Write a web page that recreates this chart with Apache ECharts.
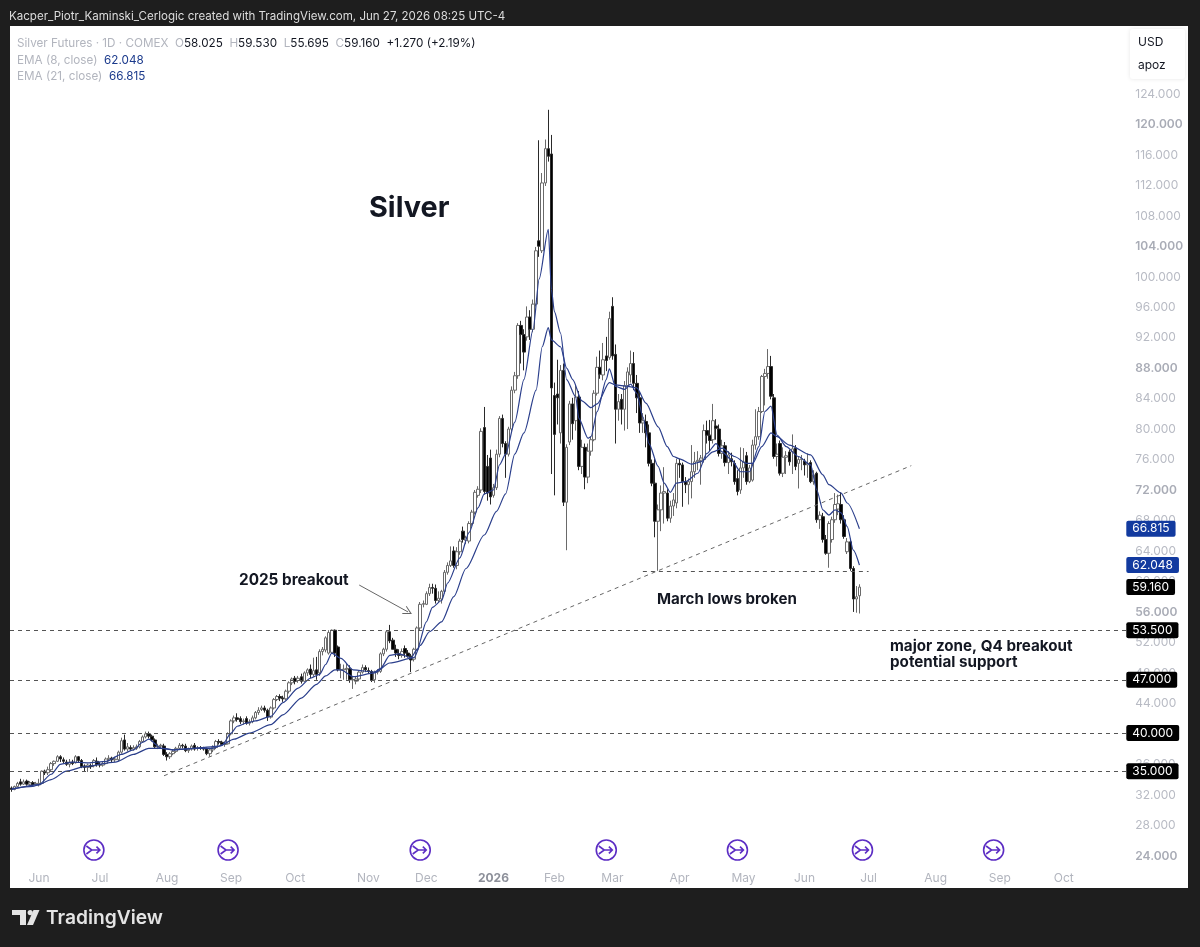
<!DOCTYPE html>
<html>
<head>
<meta charset="utf-8">
<title>Silver Futures</title>
<script src="https://cdn.jsdelivr.net/npm/echarts@6/dist/echarts.min.js"></script>
<style>
  html, body { margin: 0; padding: 0; background: #1e1e1e; overflow: hidden; }
  #panel { position: absolute; left: 10px; top: 26px; width: 1178px; height: 862px; background: #fff; }
  #chart { position: absolute; left: 0; top: 0; width: 1200px; height: 947px; }
</style>
</head>
<body>
<div id="panel"></div>
<div id="chart"></div>
<script>
// Daily sessions, oldest first (USD per ounce)
const opens = [
  32.8,32.6,33,33.6,33.3,33.7,33.3,33.5,33.2,33.2,
  33.4,35,34.8,35.2,36,36.3,36.9,36.5,36.2,35.9,
  36.2,36.1,36.9,36.4,35.7,35.5,35.7,35.7,36.3,35.9,
  35.8,36,36.6,36.7,36.5,36.5,37.5,39.1,37.9,38.1,
  37.9,38,38.2,38.9,39.5,39.9,39.6,39.1,38.2,38.3,
  38.3,37.2,36.9,37.3,37.6,38,38.4,38.3,37.7,37.9,
  38.4,38,38.1,38,37.9,37.3,37.8,38.1,38.9,38.8,
  38.5,38.6,39.9,41.6,42,41.9,41.5,41.9,41.3,41.5,
  42,42.7,43.1,43.3,43,42.1,43.3,44.4,44.8,44.6,
  44.5,45.5,46.6,47.2,46.9,47.4,46.8,47.9,48.4,47.7,
  48.3,47.9,50.7,50.9,50.5,50.6,53.5,51.3,48.3,48.3,
  48.4,48.4,47,46.8,47.1,48,48.6,48.2,48.1,47,
  48,48.1,50.4,51,53.3,52.2,51,50.4,50.2,51.1,
  50.5,50.1,49.7,51,53.8,56.9,56.9,58.3,59.1,59,57.4,
  57.6,58.6,61.1,62,63.9,62,63.8,66.5,65.3,65.2,
  67.5,69,71.2,71.9,80.1,75,76.1,71.2,72.2,76.6,
  81.3,78,76.6,79.9,85,86.9,93.5,92.3,92,94.6,
  93,96.3,104.6,103.3,112.2,116.7,116,84.3,84.5,79.4,
  87.6,70.3,78.2,83.2,81,84.1,75,77.5,73.6,77,
  78.5,84.6,88,87,89.5,89.3,96,89.7,82.5,83.8,
  82.5,85.6,87,88.5,85.9,84,80.7,80.9,79.4,75.4,
  72.8,67.8,69.3,71.5,71.5,68.2,69.8,70.2,75.4,75.2,
  73,72.6,73,74.3,75.6,75.8,75.9,79.7,79.1,78.5,
  80.3,79.9,76.7,77.7,75.5,76,75.4,73.4,71.9,74.8,
  76.4,73,73.2,77.8,78.9,82.2,86.8,87.2,88.1,84,
  76.3,78,74.1,76.2,76.9,76.9,77.4,75.4,75.9,75.7,
  75.2,75.5,73,74.1,68,68.4,65.4,63.6,65.4,68,
  69.4,70,68,63.8,65.1,61.6,57.6,58.025
];
const closes = [
  32.6,33,33.4,33.3,33.6,33.3,33.5,33.2,33.4,33.4,
  35,34.8,35.2,36,36.3,36.9,36.6,36.3,35.9,36.2,
  36,36.9,36.4,35.6,35.5,35.8,35.6,36.4,35.9,35.8,
  36,36.6,36.7,36.5,36.6,37.5,39,37.9,38.2,37.9,
  38.1,38.2,38.9,39.5,39.9,39.6,39.1,38.2,38.3,38.4,
  37.2,36.9,37.3,37.6,38,38.4,38.3,37.7,37.9,38.3,
  37.9,38.1,38,37.9,37.3,37.8,38.1,38.9,38.8,38.5,
  38.6,39.9,41.6,42,41.8,41.5,41.6,41.3,41.5,42,
  42.7,43,43.3,43,42.1,43.3,44.4,44.8,44.6,44.5,
  45.5,46.6,47.1,46.8,47.2,46.8,47.9,48.3,47.7,48.2,
  47.7,50.7,51,52.5,53.2,53.5,50.5,48.3,48.3,48.4,
  48.5,47,47,47.1,48,48.6,48.3,48.1,46.9,48,
  48.1,50.4,51,53.3,52.1,51,50.5,50.2,50.7,50.5,
  50.1,49.6,51,53.8,56.9,57,58.3,59.1,59,57.4,57.7,
  58.6,61.1,62,62.6,62,63.8,65.2,65.4,65.6,67.5,
  69,71.6,72,79.6,71.7,71.5,71,72.2,76.6,81.3,
  78,76.6,79.9,85,86.9,93.5,92.3,90,94.6,93,
  96.3,103.3,103.9,112.2,116.7,115.7,85.3,79.2,84,87.6,
  70.3,77.5,83.2,80.6,84.1,75,77.5,73.6,77,78.5,
  84.6,88,87.1,89,88.9,94.4,89.5,82.5,83.5,82.5,
  85.6,87.4,88.5,85.9,84,80.7,81,79.4,75.4,72.8,
  67.8,69.3,71.5,71.7,68.2,69.8,70.6,75.4,75.2,73,
  72.6,73,74.3,75.6,75.8,76.1,79.7,79.1,78.4,81,
  80,76.7,77.7,75.5,76.5,75.6,73,71.7,74.8,75.6,
  73,74.8,77.8,78.9,82.2,86.8,87.2,88.1,84.2,76.3,
  76.6,74.1,76.2,76.4,75.6,77.3,75,75.9,76,75.2,
  75.4,73,73.9,68,68.6,65.4,63.6,67.5,68,70,
  70.1,68,65.8,65.1,61.6,57.6,57.89,59.16
];
const lows = [
  32.3,32.5,32.9,33.1,33.2,33.1,33.1,33,33.1,33,
  33.3,34.5,34.5,34.9,35.7,36.2,36.2,36,35.7,35.5,
  35.8,36,36.2,35.4,35,34.9,35.3,35.5,35.6,35.5,
  35.6,35.9,36.3,36.2,36.2,36.3,37.3,37.7,37.6,37.7,
  37.7,37.8,38,38.7,39.3,39.3,38.9,38,37.9,38,
  37,36.4,36.6,37.1,37.4,37.8,38,37.5,37.4,37.7,
  37.7,37.7,37.8,37.7,37.1,36.9,37.5,37.9,38.5,38.3,
  38.2,38.5,39.7,41.3,41.5,41.2,41.1,41.1,41,41.3,
  41.8,42.4,42.9,42.7,41.6,41.9,43.1,44.2,44.2,44.1,
  44.3,45.2,46.3,46.4,46.6,46.5,46.7,47.5,47.2,47.4,
  47,47.5,50.2,50.6,50.3,50.4,50,48.1,47.2,47,
  47,46.6,45.8,46.4,46.8,47.8,48,47.8,46.7,46.6,
  47.7,47.9,50.1,50.7,51.8,51,50,49.7,49.9,49.9,
  49.9,48,49.4,50.8,53.5,56.5,56.8,58,58.3,57,57.1,
  57,58.3,60.8,61.8,61.7,61.5,63.4,65,64.8,64.9,
  67.2,68.7,70.9,71.5,71.3,70.5,70,70.9,71.9,76.2,
  77.5,73.5,76.3,79.6,84.6,86.5,88.5,87.6,91.5,91.6,
  92.6,96,102.5,103,111.8,115,74,71.2,80.5,78,
  69.8,64,77.8,78.5,79.7,74.5,74,72,72.8,76.4,
  78.3,84.3,86.5,86.3,87.5,89,89,78,81,80.5,
  79.7,79.9,86,85,82,79.4,79.4,77.5,75,72.4,
  65.7,61.3,66.5,67.5,67.8,67.6,68.5,69.5,73.5,69.7,
  71.5,70,70.8,73.5,74.5,72.6,75.5,78,77,78,
  78.5,76.3,76,75,74,75,72.6,71.2,71.4,73.5,
  72.6,72.8,73,77.2,78.5,82,83,86.5,83.8,76,
  75,73.8,73.6,74,75.1,74,74.5,72.1,74.5,73.8,
  73.5,72.8,72.6,67.6,66.8,65,63.4,61.7,65,67.6,
  68.6,67.5,65.5,63.5,61.3,55.9,55.8,55.695
];
const highs = [
  33,33.1,33.6,34,33.9,33.9,33.7,33.7,33.6,34,
  35.1,35.2,35.6,36.2,36.4,37.1,37.1,36.8,36.5,36.6,
  36.5,37.1,37,36.6,35.9,36,36,36.6,36.8,36.2,
  36.2,36.8,37.1,36.9,36.9,37.7,39.4,39.8,38.7,38.4,
  38.4,38.5,39.1,39.7,40.2,40.2,39.8,39.3,38.6,38.6,
  38.6,37.5,37.5,37.8,38.2,38.7,38.6,38.6,38.1,38.5,
  38.7,38.3,38.3,38.2,38.1,38,38.4,39.1,39.2,39,
  38.9,40.1,41.8,42.3,42.6,42.2,41.9,42.2,41.8,42.3,
  42.9,43.4,43.6,43.6,43.2,43.5,44.6,45,45.1,44.9,
  45.7,46.8,47.3,47.5,47.5,47.8,48.1,48.5,49,49.9,
  50,51,51.3,52.7,53.5,53.6,53.6,51.5,49.1,49,
  49.2,48.9,47.5,47.4,48.2,49,48.9,48.6,48.3,48.2,
  48.4,50.6,51.2,53.5,54.2,52.5,51.6,51,51.1,51.5,
  50.9,50.4,51.2,54,57.2,57.4,58.6,59.6,59.6,59.5,58.6,
  58.8,61.4,62.4,64.5,64.5,64.4,65.5,67.1,65.9,67.8,
  69.3,71.9,72.4,80,82.8,76.5,77.2,72.7,77.2,81.6,
  81.8,78.3,80.2,85.5,87.4,93.8,94.1,93,96,95.5,
  96.9,103.8,117.8,113.5,117.9,121.8,118.5,86,89,88.3,
  88.5,77.9,83.6,84,85.7,84.9,78.5,78,78,78.9,
  85,89.4,90.2,91.2,92,95.3,97.2,91,84.5,84.5,
  86.2,88,90.2,90,87,84.8,82,81.8,80.5,75.9,
  76,70,72.5,74.9,72,70.5,71.5,76,76,75.5,
  73.6,73.4,77.8,76.9,77,76.5,80.5,81,81.1,83.2,
  81.2,80.5,78.5,78.2,77,76.8,75.8,74.5,77.5,77.4,
  76.9,75.2,78.5,82.5,82.8,87,87.8,90.4,89.5,84.5,
  78,78.4,77.5,77,77.2,79.2,77.8,76.3,76.5,76,
  76.7,75.8,74.5,74.3,69.1,68.9,66,67.8,68.4,71.5,
  71.3,71.6,68.6,65.6,65.5,61.9,59.3,59.53
];

// Moving averages as [session index, price]
const ema8Points = [
  [0,32.7],[7,33],[9,33.25],[13,34.6],[16,35.9],[20,36.2],[25,36.1],[31,36.3],[36,37.2],[40,37.8],
  [43,38.8],[45,39.2],[49,38],[53,37.8],[60,38],[66,38],[69,38.4],[72,40],[74,40.9],[77,41.3],
  [80,41.6],[85,42.2],[89,44],[94,45.9],[98,47.2],[101,47.7],[103,49],[105,50.5],[108,49.8],[112,48.3],
  [119,48],[121,48.5],[124,50.2],[127,50.4],[131,49.9],[133,51],[136,54.6],[138,56.5],[141,57.4],[143,59.7],
  [147,63],[150,66.3],[153,69.6],[155,71.4],[158,71.9],[160,75.2],[162,76.6],[165,80.8],[168,86.4],[171,93],
  [173,99.6],[176,106.1],[177,98.2],[178,95.3],[180,92.5],[182,86.4],[185,84.1],[186,81.3],[189,78.7],[190,78.9],
  [192,82.2],[195,86.4],[196,87.8],[198,85.5],[201,85.1],[203,85.8],[205,84.6],[207,81.5],[209,78],[212,75],
  [214,72.8],[216,71.6],[218,72.8],[221,73],[225,74.1],[228,76.7],[231,78],[233,76.9],[236,75.9],[239,74.3],
  [242,74.3],[245,77.6],[247,82.2],[249,82.9],[251,79.1],[254,77.6],[258,76.3],[262,75.2],[264,71.9],[266,69.3],
  [268,68.6],[270,69.3],[272,68.9],[274,67.1],[276,64],[278,62.048]
];
const ema21Points = [
  [0,32.6],[9,33.25],[13,33.9],[18,35],[24,35.6],[34,36.2],[40,37.2],[45,38],[50,38],[53,37.8],
  [60,38],[68,38.3],[73,39.2],[78,40],[85,41.1],[89,42.4],[95,44.6],[100,46.4],[103,47.5],[106,48.3],
  [108,48.3],[112,47.4],[119,47.9],[124,49.2],[132,49.9],[134,51.5],[137,53.3],[141,54.6],[145,57.9],[149,61.6],
  [155,66],[159,69.1],[162,71.4],[165,76.6],[168,79.4],[172,85],[174,90.7],[176,93.2],[177,91.6],[180,90.7],
  [182,87.9],[184,86.4],[187,83.6],[190,82.7],[192,83.2],[196,86],[198,85.7],[202,85.5],[205,85.3],[208,83.3],
  [212,80.2],[215,77.6],[217,76.3],[219,76],[223,75.3],[226,75.6],[230,76.9],[233,77.4],[237,76.3],[241,75.4],
  [243,75.4],[246,77.6],[249,79.4],[251,78.9],[255,77.8],[262,76.5],[266,73.9],[268,72.6],[272,71.5],[274,70.2],
  [278,66.815]
];

// Month ticks along the session axis
const monthTicks = ['Jun','Jul','Aug','Sep','Oct','Nov','Dec','2026','Feb','Mar','Apr','May','Jun','Jul','Aug','Sep','Oct'];
const monthTickIndex = [9,29,51,72,93,117,136,158,178,197,219,240,260,281,303,324,345];

// Horizontal levels and drawn annotations
const levelPrices = [53.5, 47, 40, 35];
const ema8Last = 62.048, ema21Last = 66.815, lastClose = 59.16;
const marchLow = 61.3;
const contractRollIndex = [27, 71, 134, 195, 238, 279, 322];
const contractRollPrice = 24.66;
const risingTrendline = [[50, 34.4], [295, 75.1]];
const marchLowSpan = [207, 281];
const breakoutArrow = [[114, 59.43], [130, 55.9]];

const sessionCount = 366;
const categories = Array.from({ length: sessionCount }, (_, i) => {
  const k = monthTickIndex.indexOf(i);
  return k >= 0 ? monthTicks[k] : 's' + i;
});
const tickSet = new Set(monthTickIndex);
const candles = opens.map((o, i) => [o, closes[i], lows[i], highs[i]]);

const FONT = 'Inter, "Liberation Sans", sans-serif';
const NAVY = '#2b3f8c';
const TAG_BLUE = '#123a9f';
const openArrow = 'path://M0 10 L5 0 L10 10 L9.1 10.5 L5 2.6 L0.9 10.5 Z';
const rollIcon = 'path://M2 12a10 10 0 1 0 20 0a10 10 0 1 0 -20 0Z M4.5 8 L10 12 L4.5 16 M10 12 L18 12 M14.6 8.6 L18 12 L14.6 15.4';

function priceTag(bg) {
  return {
    show: true, position: 'end', distance: 0,
    formatter: (p) => p.value.toFixed(3),
    backgroundColor: bg, color: '#fff', fontFamily: FONT, fontSize: 12,
    padding: [2, 6, 1, 6], borderRadius: 2, lineHeight: 13
  };
}
const dashed = { color: '#555555', width: 1, type: [4, 4] };

const levelLines = levelPrices.map((v) => ({
  yAxis: v, lineStyle: dashed, label: priceTag('#000')
}));
const hiddenLine = { color: 'rgba(0,0,0,0)', width: 0 };
const valueTags = [
  { yAxis: ema21Last, lineStyle: hiddenLine, label: priceTag(TAG_BLUE) },
  { yAxis: ema8Last, lineStyle: hiddenLine, label: priceTag(TAG_BLUE) },
  { yAxis: lastClose, lineStyle: hiddenLine, label: priceTag('#000') }
];
const noLabel = { show: false };
const drawnLines = [
  [{ coord: risingTrendline[0], lineStyle: { color: '#666666', width: 1, type: [4, 4] }, label: noLabel },
   { coord: risingTrendline[1] }],
  [{ coord: [marchLowSpan[0], marchLow], lineStyle: dashed, label: noLabel },
   { coord: [marchLowSpan[1], marchLow] }],
  [{ coord: breakoutArrow[0], symbol: 'none', lineStyle: { color: '#666', width: 1, type: 'solid' }, label: noLabel },
   { coord: breakoutArrow[1], symbol: openArrow, symbolSize: 9 }]
];

function label(text, x, y, size, weight, fill) {
  return { type: 'text', x, y, z: 90, silent: true,
    style: { text, fontFamily: FONT, fontSize: size, fontWeight: weight, fill, verticalAlign: 'middle' } };
}

const legendRich = {
  g: { fontFamily: FONT, fontSize: 11.7, fill: '#b2b5be', color: '#b2b5be' },
  v: { fontFamily: FONT, fontSize: 11.7, fill: '#131722', color: '#131722' },
  n: { fontFamily: FONT, fontSize: 11.7, fill: '#1b3a8c', color: '#1b3a8c' }
};
function legendLine(text, y) {
  return { type: 'text', x: 17, y, z: 90, silent: true,
    style: { text, rich: legendRich, verticalAlign: 'middle' } };
}

const chart = echarts.init(document.getElementById('chart'), null, { renderer: 'canvas' });
chart.setOption({
  animation: false,
  backgroundColor: 'transparent',
  grid: { left: 10, top: 32.06, width: 1116.3, height: 853.44, containLabel: false },
  xAxis: {
    type: 'category', data: categories, boundaryGap: true,
    axisLine: { show: false }, axisTick: { show: false }, splitLine: { show: false },
    axisLabel: {
      inside: true, margin: 1,
      interval: (i) => tickSet.has(i),
      color: '#b2b5be', fontFamily: FONT, fontSize: 12,
      formatter: (v) => (v === '2026' ? '{y|2026}' : v),
      rich: { y: { fontFamily: FONT, fontSize: 12, fontWeight: 700, color: '#8d909a' } }
    }
  },
  yAxis: {
    type: 'value', position: 'right', min: 20, max: 132, interval: 4,
    axisLine: { show: false }, axisTick: { show: false }, splitLine: { show: false },
    axisLabel: {
      margin: 9, color: '#b8bbc4', fontFamily: FONT, fontSize: 12, padding: [2, 0, 0, 0],
      showMinLabel: false, showMaxLabel: false,
      formatter: (v) => ((v - 24) % 16 === 0 ? '{b|' + v.toFixed(3) + '}' : v.toFixed(3)),
      rich: { b: { fontFamily: FONT, fontSize: 12, fontWeight: 600, color: '#a9acb6' } }
    }
  },
  series: [
    {
      name: 'Silver Futures', type: 'candlestick', data: candles, barWidth: 3,
      itemStyle: { color: '#ffffff', color0: '#000000', borderColor: '#6a6a6a', borderColor0: '#2a2a2a', borderWidth: 1 },
      markLine: {
        silent: true, symbol: 'none', animation: false, precision: 3,
        data: [...levelLines, ...valueTags, ...drawnLines]
      }
    },
    { name: 'EMA 8', type: 'line', data: ema8Points, symbol: 'none', smooth: 0.25, smoothMonotone: 'x', lineStyle: { color: NAVY, width: 1.2 }, z: 3 },
    { name: 'EMA 21', type: 'line', data: ema21Points, symbol: 'none', smooth: 0.25, smoothMonotone: 'x', lineStyle: { color: NAVY, width: 1.2 }, z: 3 },
    {
      name: 'Contract roll', type: 'scatter', symbol: rollIcon, symbolSize: 20,
      data: contractRollIndex.map((i) => [i, contractRollPrice]),
      itemStyle: { color: 'rgba(0,0,0,0)', borderColor: '#5c2dc4', borderWidth: 1.6, opacity: 1 }, z: 4
    }
  ],
  graphic: [
    label('Kacper_Piotr_Kaminski_Cerlogic created with TradingView.com, Jun 27, 2026 08:25 UTC-4', 9, 17, 11.55, 400, '#dcdcdc'),
    legendLine('{g|Silver Futures · 1D · COMEX  O}{v|58.025}  {g|H}{v|59.530}  {g|L}{v|55.695}  {g|C}{v|59.160}  {v|+1.270 (+2.19%)}', 43),
    legendLine('{g|EMA (8, close)}  {n|62.048}', 60),
    legendLine('{g|EMA (21, close)}  {n|66.815}', 76),
    label('Silver', 369, 208, 28.8, 700, '#131722'),
    label('2025 breakout', 239, 580, 15.3, 700, '#131722'),
    label('March lows broken', 657, 599, 15.1, 700, '#131722'),
    label('major zone, Q4 breakout', 890, 646, 15.2, 700, '#131722'),
    label('potential support', 890, 662, 15.2, 700, '#131722'),
    // unit selector
    { type: 'rect', z: 95, silent: true, shape: { x: 1130, y: 29, width: 55, height: 50, r: 3 },
      style: { fill: '#fff', shadowBlur: 4, shadowColor: 'rgba(0,0,0,0.10)' } },
    Object.assign(label('USD', 1138, 42, 12, 400, '#131722'), { z: 96 }),
    Object.assign(label('apoz', 1138, 65, 12, 400, '#131722'), { z: 96 }),
    // brand mark
    { type: 'polygon', z: 90, silent: true, shape: { points: [[12, 910], [26, 910], [26, 925], [20, 925], [20, 915], [12, 915]] }, style: { fill: '#e4e4e4' } },
    { type: 'circle', z: 90, silent: true, shape: { cx: 30.2, cy: 912.6, r: 2.6 }, style: { fill: '#e4e4e4' } },
    { type: 'polygon', z: 90, silent: true, shape: { points: [[33.5, 910], [39.5, 910], [33, 925], [27, 925]] }, style: { fill: '#e4e4e4' } },
    label('TradingView', 46, 918, 19.2, 600, '#e4e4e4')
  ]
});
</script>
</body>
</html>
